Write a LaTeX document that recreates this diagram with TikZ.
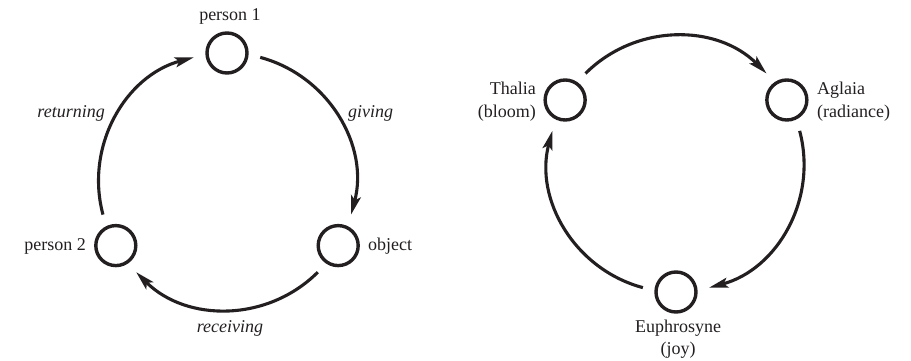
\documentclass[tikz,border=0pt]{standalone}
\usepackage{fontspec}
\setmainfont{Liberation Serif}
\usetikzlibrary{arrows.meta}
\definecolor{ink}{HTML}{231F20}
\begin{document}
\begin{tikzpicture}[x=1pt,y=1pt,
  ring/.style={circle,draw=ink,line width=3.4pt,inner sep=0pt,minimum size=40pt},
  arr/.style={draw=ink,line width=3.1pt,-{Stealth[length=19pt,width=10pt,inset=4pt]}},
  lab/.style={text=ink,font=\fontsize{18}{22.5}\selectfont,inner sep=0pt},
  act/.style={lab,font=\fontsize{18}{22.5}\selectfont\itshape}]
\useasboundingbox (0,0) rectangle (911,361);
% left cycle
\coordinate (C1) at (227,179.6);
\node[ring] (p1) at ([shift={(90:128.4)}]C1) {};
\node[ring] (p2) at ([shift={(210:128.4)}]C1) {};
\node[ring] (ob) at ([shift={(330:128.4)}]C1) {};
\node[lab] (lp1) at (230,345) {person 1};
\node[lab,anchor=east] (lp2) at (86,115) {person 2};
\node[lab,anchor=west] (lob) at (368,115) {object};
\node[act,anchor=east] (lret) at (105,248) {returning};
\node[act,anchor=west] (lgiv) at (348,248) {giving};
\node[act] (lrec) at (230,33) {receiving};
\draw[arr] ([shift={(75:128.4)}]C1) arc[start angle=75,end angle=-15,radius=128.4];
\draw[arr] ([shift={(-45:128.4)}]C1) arc[start angle=-45,end angle=-135,radius=128.4];
\draw[arr] ([shift={(195:128.4)}]C1) arc[start angle=195,end angle=105,radius=128.4];
% right cycle
\coordinate (C2) at (676,197);
\node[ring] (th) at ([shift={(150:128)}]C2) {};
\node[ring] (ag) at ([shift={(30:128)}]C2) {};
\node[ring] (eu) at ([shift={(270:128)}]C2) {};
\node[lab,anchor=east,align=right] (lth) at (536,259.5) {Thalia\\(bloom)};
\node[lab,anchor=west,align=left] (lag) at (817,259.5) {Aglaia\\(radiance)};
\node[lab,align=center] (leu) at (678,22) {Euphrosyne\\(joy)};
\draw[arr] ([shift={(135:128)}]C2) arc[start angle=135,end angle=45,radius=128];
\draw[arr] ([shift={(15:128)}]C2) arc[start angle=15,end angle=-75,radius=128];
\draw[arr] ([shift={(255:128)}]C2) arc[start angle=255,end angle=165,radius=128];
\end{tikzpicture}
\end{document}
